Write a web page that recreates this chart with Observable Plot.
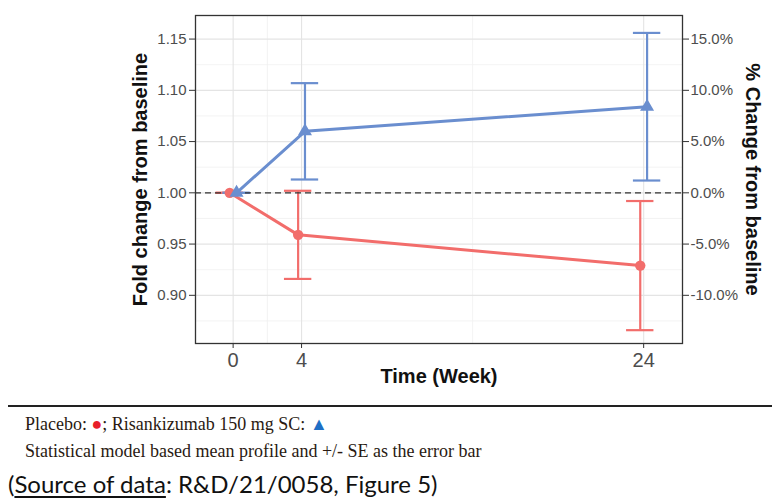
<!DOCTYPE html>
<html>
<head>
<meta charset="utf-8">
<script src="https://cdn.jsdelivr.net/npm/d3@7"></script>
<script src="https://cdn.jsdelivr.net/npm/@observablehq/plot@0.6"></script>
<style>
  html, body { margin: 0; padding: 0; background: #fff; }
  #page { position: relative; width: 772px; height: 499px; overflow: hidden; }
  #chart svg { display: block; }
  .rule { position: absolute; left: 8px; right: 0; top: 405px; height: 0; border-top: 2px solid #222; }
  .note { position: absolute; left: 25px; font-family: "Liberation Serif", "Times New Roman", serif; font-size: 18px; color: #2a1a12; white-space: nowrap; }
  .src { position: absolute; left: 8px; top: 469px; font-family: Lato, "Open Sans", sans-serif; font-size: 24px; color: #111; white-space: nowrap; }
  .src u { text-decoration-thickness: 1.5px; text-underline-offset: 3px; }
</style>
</head>
<body>
<div id="page">
  <div id="chart"></div>
  <div class="rule"></div>
  <div class="note" style="top:414px">Placebo: <span style="color:#e8202a">●</span>; Risankizumab 150 mg SC: <span style="color:#1f6fc5">▲</span></div>
  <div class="note" style="top:441px">Statistical model based mean profile and +/- SE as the error bar</div>
  <div class="src">(<u>Source of data</u>: R&amp;D/21/0058, Figure 5)</div>
</div>
<script>
// Visit weeks and treatment groups
const weeks = [0, 4, 24];
const groups = ["Placebo", "Risankizumab 150 mg SC"];

// Model-based mean fold change from baseline and its standard error
const placeboMean = [1.000, 0.959, 0.929];
const placeboSE   = [0.000, 0.043, 0.063];
const risaMean    = [1.000, 1.060, 1.084];
const risaSE      = [0.000, 0.047, 0.072];

// Axis ticks
const yTicks = [0.90, 0.95, 1.00, 1.05, 1.10, 1.15];
const yMinor = [0.875, 0.925, 0.975, 1.025, 1.075, 1.125];
const xMinor = [2, 14];

const red = "#f26d6b";
const blue = "#6a8ecf";

const rows = [
  ...weeks.map((w, i) => ({group: groups[0], week: w, mean: placeboMean[i], se: placeboSE[i]})),
  ...weeks.map((w, i) => ({group: groups[1], week: w, mean: risaMean[i], se: risaSE[i]}))
];

// Side-by-side dodge so the two groups don't overlap
const dodge = {[groups[0]]: -0.2, [groups[1]]: 0.2};
const xpos = d => d.week + dodge[d.group];
const capHalf = 0.8;

const chart = Plot.plot({
  width: 772,
  height: 400,
  marginLeft: 195,
  marginRight: 90,
  marginTop: 15,
  marginBottom: 57,
  style: {fontFamily: "'Liberation Sans', Arial, sans-serif", background: "white"},
  x: {domain: [-2.2, 26.27]},
  y: {domain: [0.853, 1.173]},
  color: {domain: groups, range: [red, blue]},
  symbol: {domain: groups, range: ["circle", "triangle"]},
  marks: [
    // panel grid
    Plot.ruleY(yMinor, {stroke: "#f0f0f0", strokeWidth: 0.8}),
    Plot.ruleX(xMinor, {stroke: "#f0f0f0", strokeWidth: 0.8}),
    Plot.ruleY(yTicks, {stroke: "#e4e4e4", strokeWidth: 1.1}),
    Plot.ruleX(weeks, {stroke: "#e4e4e4", strokeWidth: 1.1}),

    // axes
    Plot.axisY({anchor: "left", ticks: yTicks, tickFormat: d3.format(".2f"), tickSize: 6, tickPadding: 3,
      fontSize: 15, stroke: "#333", fill: "#4d4d4d", label: null}),
    Plot.axisY({anchor: "right", ticks: yTicks, tickFormat: d => ((d - 1) * 100).toFixed(1) + "%",
      tickSize: 6, tickPadding: 2, fontSize: 15, stroke: "#333", fill: "#4d4d4d", label: null}),
    Plot.axisX({ticks: weeks, tickFormat: d => String(d), tickSize: 5, tickPadding: 4,
      fontSize: 20, stroke: "#333", fill: "#4d4d4d", label: null}),

    // error bars (±SE)
    Plot.ruleX(rows, {x: xpos, y1: d => d.mean - d.se, y2: d => d.mean + d.se, stroke: "group", strokeWidth: 2.2}),
    Plot.ruleY(rows, {y: d => d.mean + d.se, x1: d => xpos(d) - capHalf, x2: d => xpos(d) + capHalf, stroke: "group", strokeWidth: 2.2}),
    Plot.ruleY(rows, {y: d => d.mean - d.se, x1: d => xpos(d) - capHalf, x2: d => xpos(d) + capHalf, stroke: "group", strokeWidth: 2.2}),

    // no-change reference
    Plot.ruleY([1], {stroke: "#333", strokeWidth: 1.3, strokeDasharray: "6,4"}),

    // mean profiles
    Plot.line(rows, {x: xpos, y: "mean", z: "group", stroke: "group", strokeWidth: 3}),
    Plot.dot(rows, {x: xpos, y: "mean", fill: "group", symbol: "group", r: 5.2, stroke: "none"}),

    Plot.frame({stroke: "#333", strokeWidth: 1.3}),

    // axis titles
    Plot.text(["Fold change from baseline"], {frameAnchor: "left", dx: -55, rotate: -90, textAnchor: "middle",
      fontSize: 20, fontWeight: "bold", fill: "#111"}),
    Plot.text(["% Change from baseline"], {frameAnchor: "right", dx: 70, rotate: 90, textAnchor: "middle",
      fontSize: 20, fontWeight: "bold", fill: "#111"}),
    Plot.text(["Time (Week)"], {frameAnchor: "bottom", dy: 39, textAnchor: "middle",
      fontSize: 20, fontWeight: "bold", fill: "#111"})
  ]
});

document.getElementById("chart").append(chart);
</script>
</body>
</html>
